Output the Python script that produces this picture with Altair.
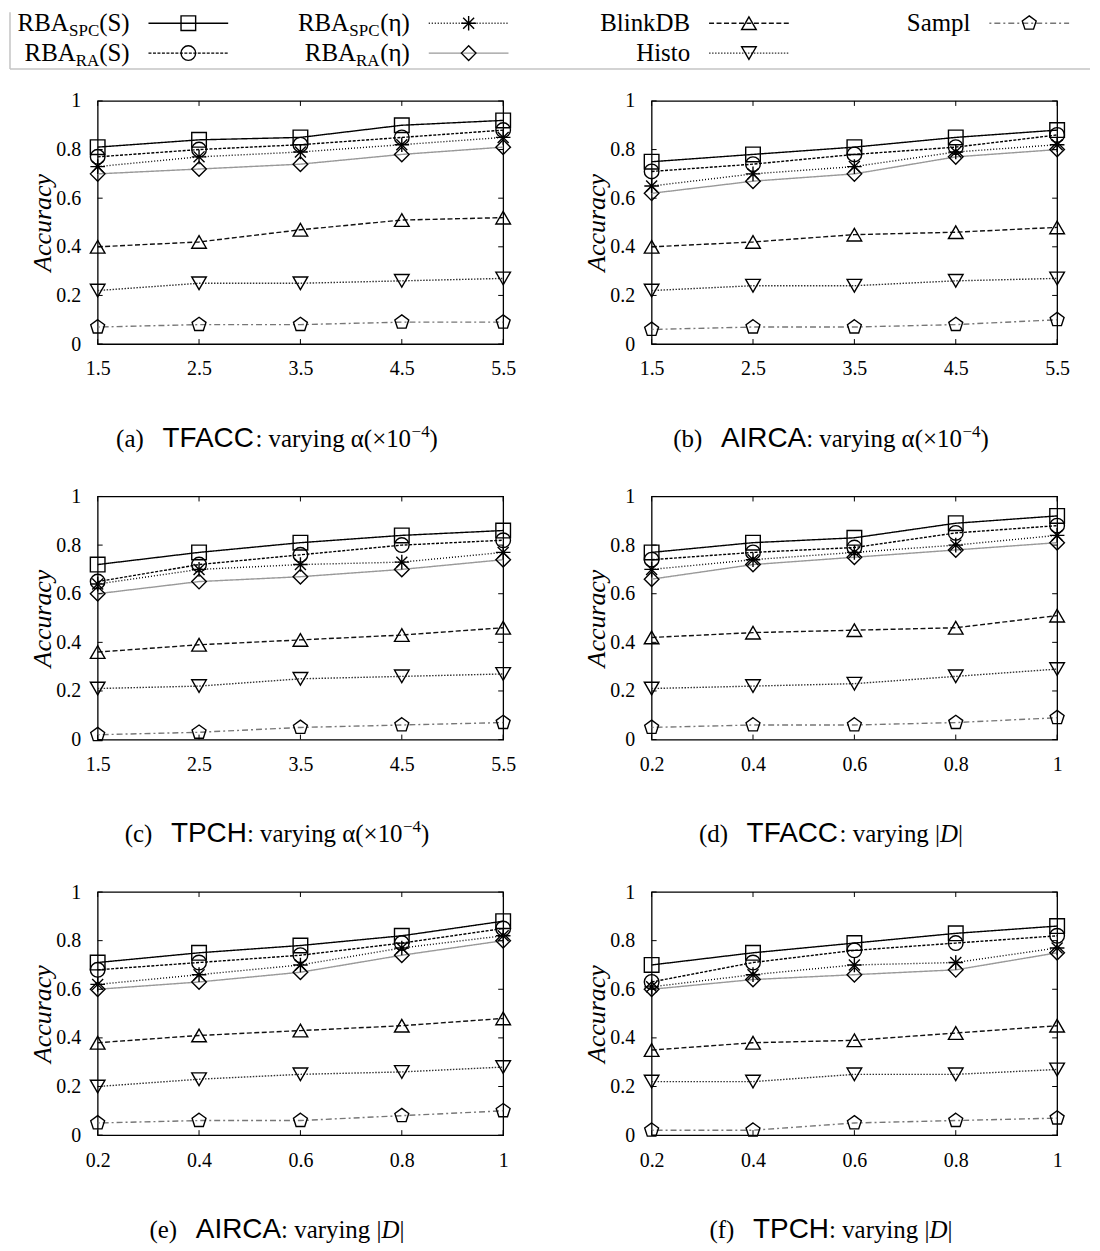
import altair as alt
import pandas as pd

# ---------------- data ----------------
SERIES = ["RBA_SPC(S)", "RBA_RA(S)", "RBA_SPC(η)", "RBA_RA(η)", "BlinkDB", "Histo", "Sampl"]
X_ALPHA = [1.5, 2.5, 3.5, 4.5, 5.5]
X_SIZE = [0.2, 0.4, 0.6, 0.8, 1.0]
Y_TICKS = [0, 0.2, 0.4, 0.6, 0.8, 1.0]

# values per panel, one list per series in SERIES order
TFACC_ALPHA = [
    [0.81, 0.84, 0.85, 0.90, 0.92],
    [0.77, 0.80, 0.82, 0.85, 0.88],
    [0.73, 0.77, 0.79, 0.82, 0.85],
    [0.70, 0.72, 0.74, 0.78, 0.81],
    [0.40, 0.42, 0.47, 0.51, 0.52],
    [0.22, 0.25, 0.25, 0.26, 0.27],
    [0.07, 0.08, 0.08, 0.09, 0.09],
]
AIRCA_ALPHA = [
    [0.75, 0.78, 0.81, 0.85, 0.88],
    [0.71, 0.74, 0.78, 0.81, 0.86],
    [0.65, 0.70, 0.73, 0.79, 0.82],
    [0.62, 0.67, 0.70, 0.77, 0.80],
    [0.40, 0.42, 0.45, 0.46, 0.48],
    [0.22, 0.24, 0.24, 0.26, 0.27],
    [0.06, 0.07, 0.07, 0.08, 0.10],
]
TPCH_ALPHA = [
    [0.72, 0.77, 0.81, 0.84, 0.86],
    [0.65, 0.72, 0.76, 0.80, 0.82],
    [0.64, 0.70, 0.72, 0.73, 0.77],
    [0.60, 0.65, 0.67, 0.70, 0.74],
    [0.36, 0.39, 0.41, 0.43, 0.46],
    [0.21, 0.22, 0.25, 0.26, 0.27],
    [0.02, 0.03, 0.05, 0.06, 0.07],
]
TFACC_SIZE = [
    [0.77, 0.81, 0.83, 0.89, 0.92],
    [0.74, 0.77, 0.79, 0.85, 0.88],
    [0.70, 0.74, 0.77, 0.80, 0.84],
    [0.66, 0.72, 0.75, 0.78, 0.81],
    [0.42, 0.44, 0.45, 0.46, 0.51],
    [0.21, 0.22, 0.23, 0.26, 0.29],
    [0.05, 0.06, 0.06, 0.07, 0.09],
]
AIRCA_SIZE = [
    [0.71, 0.75, 0.78, 0.82, 0.88],
    [0.68, 0.71, 0.74, 0.79, 0.85],
    [0.62, 0.66, 0.70, 0.77, 0.82],
    [0.60, 0.63, 0.67, 0.74, 0.80],
    [0.38, 0.41, 0.43, 0.45, 0.48],
    [0.20, 0.23, 0.25, 0.26, 0.28],
    [0.05, 0.06, 0.06, 0.08, 0.10],
]
TPCH_SIZE = [
    [0.70, 0.75, 0.79, 0.83, 0.86],
    [0.63, 0.71, 0.76, 0.79, 0.82],
    [0.61, 0.66, 0.70, 0.71, 0.77],
    [0.60, 0.64, 0.66, 0.68, 0.75],
    [0.35, 0.38, 0.39, 0.42, 0.45],
    [0.22, 0.22, 0.25, 0.25, 0.27],
    [0.02, 0.02, 0.05, 0.06, 0.07],
]
CAPTION_TAGS = ["(a)", "(b)", "(c)", "(d)", "(e)", "(f)"]
CAPTION_DATASETS = ["TFACC", "AIRCA", "TPCH", "TFACC", "AIRCA", "TPCH"]
CAPTION_VARIED = ["alpha", "alpha", "alpha", "size", "size", "size"]

# legend slots
LEG_COL = [0, 0, 1, 1, 2, 2, 3]
LEG_ROW = [0, 1, 0, 1, 0, 1, 0]
LEG_MAIN = ["RBA", "RBA", "RBA", "RBA", "BlinkDB", "Histo", "Sampl"]
LEG_SUB = ["SPC", "RA", "SPC", "RA", "", "", ""]
LEG_TAIL = ["(S)", "(S)", "(η)", "(η)", "", "", ""]

# ---------------- styles ----------------
FONT = "Liberation Serif"
SANS = "Liberation Sans"
W, H = 407, 244
COLORS = ["#000000", "#000000", "#000000", "#999999", "#111111", "#333333", "#777777"]
DASHES = [[1, 0], [3, 1.5], [1, 2], [1, 0], [5, 2.5], [1.5, 1.5], [2, 3, 6, 3]]
PENTAGON = "M0,-1L0.951,-0.309L0.588,0.809L-0.588,0.809L-0.951,-0.309Z"
ASTERISK = "M-1,0L1,0M0,-1L0,1M-0.75,-0.75L0.75,0.75M-0.75,0.75L0.75,-0.75"
SHAPES = ["square", "circle", ASTERISK, "diamond", "triangle-up", "triangle-down", PENTAGON]
MSIZE = 215

color_enc = alt.Color("series:N", scale=alt.Scale(domain=SERIES, range=COLORS), legend=None)
dash_enc = alt.StrokeDash("series:N", scale=alt.Scale(domain=SERIES, range=DASHES), legend=None)
shape_enc = alt.Shape("series:N", scale=alt.Scale(domain=SERIES, range=SHAPES), legend=None)

# approximate glyph advance widths (em) for caption layout
SERIF_W = {"(": .333, ")": .333, "a": .444, "b": .5, "c": .444, "d": .5, "e": .444, "f": .333,
           ":": .278, " ": .25, "v": .5, "r": .333, "y": .5, "i": .278, "n": .5, "g": .5,
           "|": .2, "×": .564, "1": .5, "0": .5, "−": .564, "4": .5, "α": .54, "D": .722}
SANS_W = {"T": .611, "F": .611, "A": .667, "C": .722, "I": .278, "R": .722, "P": .667, "H": .722}
ONE = pd.DataFrame({"a": [0]})
CAP_SERIF, CAP_SANS, CAP_SUP = 25, 28, 17


def tw(s, table, size):
    return sum(table.get(ch, 0.5) for ch in s) * size


def caption_layers(tag, dataset, varied):
    # (text, font, size, style, raise)
    pieces = [(tag, FONT, CAP_SERIF, "normal", 0), ("   ", FONT, CAP_SERIF, "normal", 0),
              (dataset, SANS, CAP_SANS, "normal", 0)]
    if varied == "alpha":
        pieces += [(": varying α(×10", FONT, CAP_SERIF, "normal", 0), ("−4", FONT, CAP_SUP, "normal", 10),
                   (")", FONT, CAP_SERIF, "normal", 0)]
    else:
        pieces += [(": varying |", FONT, CAP_SERIF, "normal", 0), ("D", FONT, CAP_SERIF, "italic", 0),
                   ("|", FONT, CAP_SERIF, "normal", 0)]
    widths = [tw(t, SANS_W if f == SANS else SERIF_W, s) for t, f, s, _, _ in pieces]
    x = 180 - sum(widths) / 2
    layers = []
    for (t, f, s, st, up), w in zip(pieces, widths):
        if t.strip():
            layers.append(alt.Chart(ONE).mark_text(
                text=t, font=f, fontSize=s, fontStyle=st, color="black",
                align="left", baseline="alphabetic"
            ).encode(x=alt.value(x), y=alt.value(H + 103 - up)))
        x += w
    return layers


def panel(values, xs, idx):
    rows = []
    for s, ys in zip(SERIES, values):
        for x, y in zip(xs, ys):
            rows.append({"series": s, "x": x, "y": y})
    df = pd.DataFrame(rows)
    xscale = alt.Scale(domain=[xs[0], xs[-1]], nice=False, zero=False)
    yscale = alt.Scale(domain=[0, 1], nice=False, zero=False)
    xaxis = alt.Axis(values=xs, format=".1~f", ticks=False, domain=False, grid=False,
                     labelPadding=15, labelFlush=False, title=None)
    yaxis = alt.Axis(values=Y_TICKS, format=".1~f", ticks=False, domain=False, grid=False,
                     labelPadding=17, labelFlush=False, title="Accuracy", titlePadding=0)
    base = alt.Chart(df)
    lines = base.mark_line(strokeWidth=1.4).encode(
        x=alt.X("x:Q", scale=xscale, axis=xaxis),
        y=alt.Y("y:Q", scale=yscale, axis=yaxis),
        color=color_enc,
        strokeDash=dash_enc,
    )
    points = base.mark_point(filled=False, size=MSIZE, strokeWidth=1.4, color="black", opacity=1).encode(
        x=alt.X("x:Q", scale=xscale, axis=xaxis), y=alt.Y("y:Q", scale=yscale, axis=yaxis), shape=shape_enc
    )
    ydf = pd.DataFrame({"y": Y_TICKS})
    xdf = pd.DataFrame({"x": xs})
    tl = alt.Chart(ydf).mark_rule(color="black", strokeWidth=1).encode(
        y=alt.Y("y:Q", scale=yscale, axis=yaxis), x=alt.value(0), x2=alt.value(5))
    tr = alt.Chart(ydf).mark_rule(color="black", strokeWidth=1).encode(
        y=alt.Y("y:Q", scale=yscale, axis=yaxis), x=alt.value(W - 5), x2=alt.value(W))
    tb = alt.Chart(xdf).mark_rule(color="black", strokeWidth=1).encode(
        x=alt.X("x:Q", scale=xscale, axis=xaxis), y=alt.value(H), y2=alt.value(H - 5))
    tt = alt.Chart(xdf).mark_rule(color="black", strokeWidth=1).encode(
        x=alt.X("x:Q", scale=xscale, axis=xaxis), y=alt.value(0), y2=alt.value(5))
    cap = caption_layers(CAPTION_TAGS[idx], CAPTION_DATASETS[idx], CAPTION_VARIED[idx])
    return alt.layer(lines, points, tl, tr, tb, tt, *cap).properties(width=W, height=H)


# ---------------- legend ----------------
LEG_W, LEG_H = 963, 57
leg_df = pd.DataFrame({
    "series": SERIES, "col": LEG_COL, "row": LEG_ROW,
    "main": LEG_MAIN, "sub": LEG_SUB, "tail": LEG_TAIL,
})
lx = alt.Scale(domain=[0, 3], range=[91, 935])
ly = alt.Scale(domain=[0, 1], range=[11, 41])
HALF = 40 / 281.3

lbase = alt.Chart(leg_df)
enc_xy = dict(x=alt.X("col:Q", scale=lx, axis=None), y=alt.Y("row:Q", scale=ly, axis=None))
leg_lines = lbase.transform_calculate(
    x1=f"datum.col - {HALF}", x2=f"datum.col + {HALF}"
).mark_rule(strokeWidth=1.4).encode(
    x=alt.X("x1:Q", scale=lx, axis=None), x2="x2:Q",
    y=alt.Y("row:Q", scale=ly, axis=None),
    color=color_enc, strokeDash=dash_enc,
)
leg_pts = lbase.mark_point(filled=False, size=MSIZE, strokeWidth=1.4, color="black", opacity=1).encode(
    shape=shape_enc, **enc_xy)
tprops = dict(font=FONT, fontSize=25, color="black", align="right", baseline="middle")
sprops = dict(tprops)
sprops["fontSize"] = 17
leg_plain = lbase.transform_filter("datum.sub == ''").mark_text(dx=-59, **tprops).encode(
    text="main:N", **enc_xy)
leg_tail = lbase.transform_filter("datum.sub != ''").mark_text(dx=-59, **tprops).encode(
    text="tail:N", **enc_xy)
leg_sub = lbase.transform_filter("datum.sub != ''").mark_text(dx=-89.5, dy=8, **sprops).encode(
    text="sub:N", **enc_xy)
leg_main_spc = lbase.transform_filter("datum.sub == 'SPC'").mark_text(dx=-120, **tprops).encode(
    text="main:N", **enc_xy)
leg_main_ra = lbase.transform_filter("datum.sub == 'RA'").mark_text(dx=-113, **tprops).encode(
    text="main:N", **enc_xy)
border_l = alt.Chart(ONE).mark_rule(color="#c4c4c4", strokeWidth=1.5).encode(
    x=alt.value(-88), y=alt.value(0), y2=alt.value(LEG_H))
border_b = alt.Chart(ONE).mark_rule(color="#c4c4c4", strokeWidth=1.5).encode(
    x=alt.value(-88), x2=alt.value(996), y=alt.value(LEG_H))

legend = alt.layer(
    border_l, border_b, leg_lines, leg_pts, leg_plain, leg_tail, leg_sub, leg_main_spc, leg_main_ra
).properties(width=LEG_W, height=LEG_H, view=alt.ViewBackground(stroke="transparent"))

# ---------------- layout ----------------
panels = [
    panel(TFACC_ALPHA, X_ALPHA, 0), panel(AIRCA_ALPHA, X_ALPHA, 1),
    panel(TPCH_ALPHA, X_ALPHA, 2), panel(TFACC_SIZE, X_SIZE, 3),
    panel(AIRCA_SIZE, X_SIZE, 4), panel(TPCH_SIZE, X_SIZE, 5),
]
grid = alt.concat(*panels, columns=2, spacing={"row": 153, "column": 149}, bounds="flush")

chart = alt.vconcat(legend, grid, spacing=32, bounds="flush").configure_view(
    stroke="black", strokeWidth=1.3
).configure_axis(
    labelFont=FONT, labelFontSize=20, labelColor="black",
    titleFont=FONT, titleFontSize=26, titleFontStyle="italic", titleFontWeight="normal", titleColor="black",
).properties(padding=0, background="white")

chart.save("out.html", embed_options={"renderer": "svg", "actions": False})
